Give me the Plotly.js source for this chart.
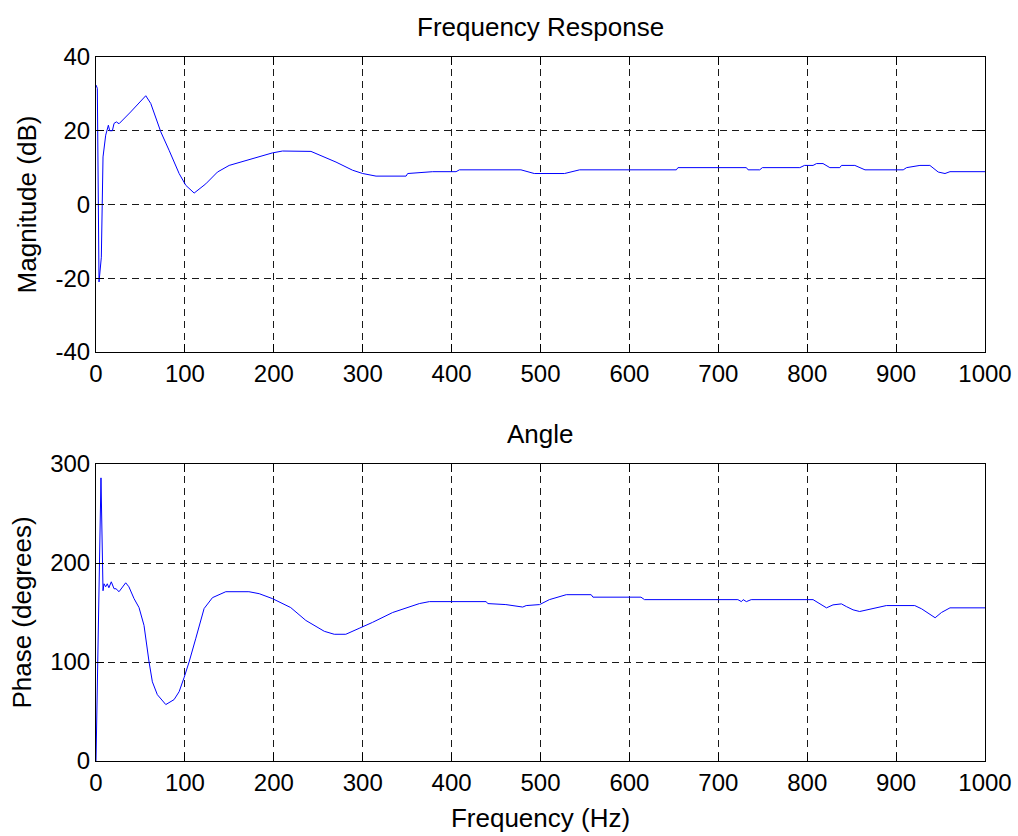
<!DOCTYPE html>
<html>
<head>
<meta charset="utf-8">
<script src="https://cdn.plot.ly/plotly-3.0.1.min.js"></script>
<style>html,body{margin:0;padding:0;background:#fff;}#chart{width:1018px;height:836px;}</style>
</head>
<body>
<div id="chart"></div>
<script>
// Magnitude response (Hz, dB)
const magFreq = [0, 1.5, 3.4, 6, 7.9, 10.9, 13.9, 15.4, 18.4, 20.3, 22.9, 25.9, 39, 56, 61.6, 72.9, 82.2, 93.5, 101, 110.4, 123.5, 136.6, 149.8, 164.8, 198.5, 209.8, 241.8, 270, 288.6, 300, 315, 348.8, 350.6, 378.7, 405, 408.8, 478, 493, 527, 544, 652.8, 654.6, 731.6, 733.5, 746.6, 749.6, 791.7, 797, 806.6, 810.5, 817.8, 825.5, 836.7, 838.5, 853.6, 865, 908, 911.8, 926.8, 938, 947.4, 955, 960.6, 1000];
const magDb = [32.4, 31.5, -21, -14.3, 12.9, 18.8, 21.5, 20, 20, 22, 22.4, 21.9, 25.1, 29.5, 27.4, 19.7, 14.7, 8.4, 5.2, 3.1, 5.6, 8.8, 10.6, 11.7, 14, 14.5, 14.4, 11.5, 9.3, 8.4, 7.7, 7.7, 8.4, 8.9, 8.9, 9.4, 9.4, 8.4, 8.4, 9.4, 9.4, 10, 10, 9.4, 9.4, 10, 10, 10.6, 10.6, 11.1, 11.1, 10, 10, 10.6, 10.6, 9.4, 9.4, 10, 10.6, 10.6, 8.8, 8.4, 8.9, 8.9];

// Phase response (Hz, degrees)
const phaseFreq = [0, 5.6, 7.9, 9, 10.9, 12.7, 14.5, 17.2, 20.3, 22.5, 25.9, 33.4, 37, 42.8, 48.4, 54, 59.7, 63.4, 69, 78.5, 87.8, 93.5, 99, 104.7, 112.3, 121.6, 131, 146, 172, 183.6, 198.5, 219, 236, 256.8, 268, 281, 296, 311, 333.7, 363.7, 375, 438.9, 440.7, 461, 480, 483.9, 499, 510, 529, 557, 559, 613, 617, 722, 726, 728, 731.6, 737, 806.6, 814, 821.7, 829, 838.5, 844, 851.6, 859, 874, 889, 921, 928.7, 943.9, 951, 960.6, 1000];
const phaseDeg = [0, 286, 172, 179, 176, 179, 175, 181, 174, 174, 171, 180, 176, 164, 155, 137, 100, 80, 67, 57, 62, 70, 84, 100, 124, 154, 165, 171, 171, 169, 164, 155, 142, 131, 128, 128, 134, 140, 150, 159, 161, 161, 159, 158, 155.5, 157, 158, 163, 168, 168, 165.5, 165.5, 163, 163, 161, 163, 161, 163, 163, 158.7, 154.7, 157.7, 158.7, 156, 152.7, 151, 154, 157, 157, 153.7, 144.7, 150, 154.7, 154.7];

const xTicks = [0, 100, 200, 300, 400, 500, 600, 700, 800, 900, 1000];
const magTicks = [-40, -20, 0, 20, 40];
const magTickLabels = ['-40', '-20', '0', '20', '40'];
const phaseTicks = [0, 100, 200, 300];

const FONT = 'Liberation Sans, Arial, Helvetica, sans-serif';
const lineStyle = {color: '#0000ff', width: 1};

const traces = [
  {x: magFreq, y: magDb, type: 'scatter', mode: 'lines', line: lineStyle, xaxis: 'x', yaxis: 'y', hoverinfo: 'x+y'},
  {x: phaseFreq, y: phaseDeg, type: 'scatter', mode: 'lines', line: lineStyle, xaxis: 'x2', yaxis: 'y2', hoverinfo: 'x+y'}
];

const axisCommon = {
  showline: true, linecolor: '#000', linewidth: 1, mirror: 'ticks',
  ticks: 'inside', ticklen: 8, tickcolor: '#000', tickwidth: 1,
  showgrid: true, gridcolor: '#1a1a1a', gridwidth: 1, griddash: '7px,5px',
  zeroline: false, tickfont: {family: FONT, size: 24, color: '#000'},
  fixedrange: true
};

const labelFont = {family: FONT, size: 26, color: '#000'};
const topBottom = (761 - 352) / 704;
const botTop = (761 - 464) / 704;

const layout = {
  width: 1018, height: 836,
  margin: {l: 96, r: 33, t: 57, b: 75, pad: 0},
  paper_bgcolor: '#fff', plot_bgcolor: '#fff',
  showlegend: false,
  font: {family: FONT, size: 24, color: '#000'},
  xaxis: Object.assign({}, axisCommon, {domain: [0, 1], range: [0, 1000], tickvals: xTicks, anchor: 'y'}),
  yaxis: Object.assign({}, axisCommon, {domain: [topBottom, 1], range: [-40, 40], tickvals: magTicks, ticktext: magTickLabels, anchor: 'x',
    title: {text: 'Magnitude (dB)', font: labelFont, standoff: 11}}),
  xaxis2: Object.assign({}, axisCommon, {domain: [0, 1], range: [0, 1000], tickvals: xTicks, anchor: 'y2',
    title: {text: 'Frequency (Hz)', font: labelFont, standoff: 14}}),
  yaxis2: Object.assign({}, axisCommon, {domain: [0, botTop], range: [0, 300], tickvals: phaseTicks, anchor: 'x2',
    title: {text: 'Phase (degrees)', font: labelFont, standoff: 11}}),
  annotations: [
    {text: 'Frequency Response', xref: 'paper', yref: 'paper', x: 0.5, y: (761 - 27) / 704, xanchor: 'center', yanchor: 'middle', showarrow: false, font: labelFont},
    {text: 'Angle', xref: 'paper', yref: 'paper', x: 0.5, y: (761 - 434) / 704, xanchor: 'center', yanchor: 'middle', showarrow: false, font: labelFont}
  ]
};

Plotly.newPlot('chart', traces, layout, {displayModeBar: false, staticPlot: true});
</script>
</body>
</html>
